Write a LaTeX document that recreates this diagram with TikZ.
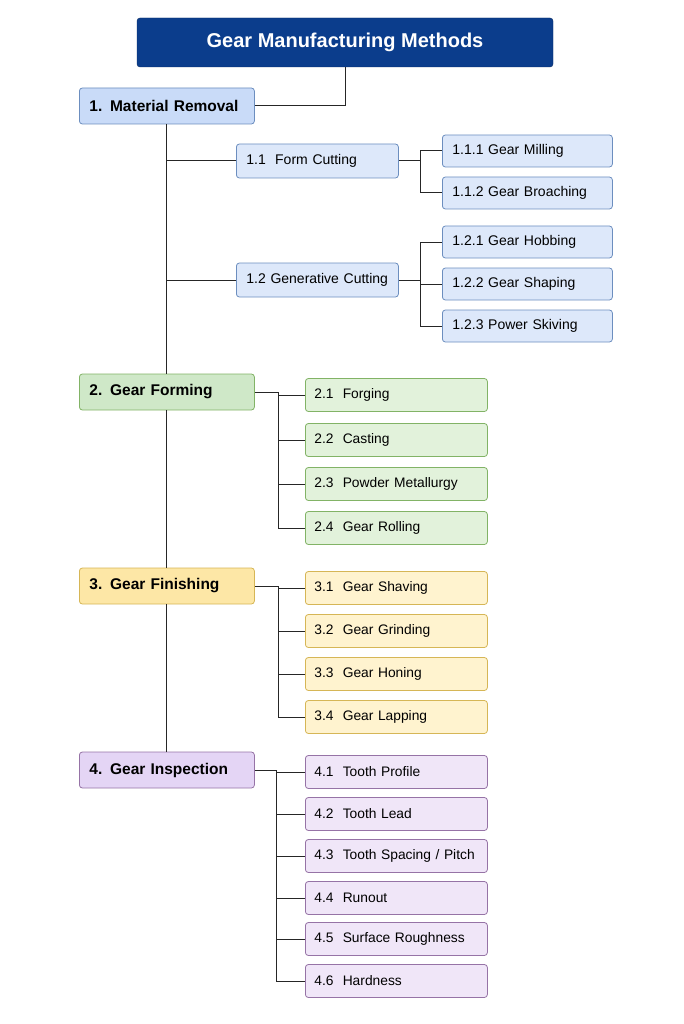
\documentclass[tikz,border=0pt]{standalone}
\usepackage{fontspec}
\setmainfont{Liberation Sans}
\definecolor{titleblue}{HTML}{0B3D8C}
\definecolor{bluefill}{HTML}{C9DBF8}\definecolor{blueline}{HTML}{6C8EBF}\definecolor{bluelite}{HTML}{DDE8FA}
\definecolor{greenfill}{HTML}{CFE8C8}\definecolor{greenline}{HTML}{82B366}\definecolor{greenlite}{HTML}{E2F2DB}
\definecolor{yelfill}{HTML}{FDE7A6}\definecolor{yelline}{HTML}{D6B656}\definecolor{yellite}{HTML}{FFF3CF}
\definecolor{purfill}{HTML}{E4D5F5}\definecolor{purline}{HTML}{9673A6}\definecolor{purlite}{HTML}{F0E6F8}
\tikzset{
  box/.style={draw, rounded corners=3pt, anchor=west, align=left, inner xsep=10pt, line width=0.8pt},
  cat/.style={box, minimum height=36pt, text width=155pt, font=\fontsize{15.5}{18}\selectfont\bfseries},
  sub/.style={box, minimum height=34pt, text width=142pt, font=\fontsize{14}{17}\selectfont},
  leaf/.style={box, minimum height=32pt, text width=150pt, font=\fontsize{14}{17}\selectfont},
  kid/.style={box, minimum height=33pt, inner xsep=9pt, text width=164pt, font=\fontsize{13.8}{17}\selectfont},
  link/.style={line width=1pt, black!85}
}
\begin{document}
\begin{tikzpicture}[x=1pt,y=-1pt]
\useasboundingbox (0,0) rectangle (683,1024);
\node[draw=titleblue!70!black, fill=titleblue, rounded corners=3pt, minimum width=416pt, minimum height=49pt,
  text=white, font=\fontsize{20}{24}\selectfont\bfseries] (title) at (345,42.5) {Gear Manufacturing Methods};

% categories
\node[cat, fill=bluefill, draw=blueline] (mr) at (79,106) {1. Material Removal};
\node[cat, fill=greenfill, draw=greenline] (gf) at (79,392) {2. Gear Forming};
\node[cat, fill=yelfill, draw=yelline] (gfi) at (79,586) {3. Gear Finishing};
\node[cat, fill=purfill, draw=purline] (gi) at (79,770) {4. Gear Inspection};
\draw[link] (title.south) |- (mr.east);
\draw[link] (mr.south) -- (gf.north);
\draw[link] (gf.south) -- (gfi.north);
\draw[link] (gfi.south) -- (gi.north);

% material removal
\node[sub, fill=bluelite, draw=blueline] (fc) at (236,161) {1.1\ \ Form Cutting};
\node[sub, fill=bluelite, draw=blueline] (gc) at (236,280) {1.2 Generative Cutting};
\draw[link] (fc.west) -| (mr.south);
\draw[link] (gc.west) -| (mr.south);
\coordinate (jfc) at (420,161);
\coordinate (jgc) at (420,280);
\draw[link] (fc.east) -- (jfc);
\draw[link] (gc.east) -- (jgc);
\foreach \n/\y/\t in {a/151/1.1.1 Gear Milling, b/193/1.1.2 Gear Broaching}{
  \node[leaf, fill=bluelite, draw=blueline] (l\n) at (442,\y) {\t};
  \draw[link] (jfc) |- (l\n.west);
}
\foreach \n/\y/\t in {c/242/1.2.1 Gear Hobbing, d/284/1.2.2 Gear Shaping, e/326/1.2.3 Power Skiving}{
  \node[leaf, fill=bluelite, draw=blueline] (l\n) at (442,\y) {\t};
  \draw[link] (jgc) |- (l\n.west);
}

% forming
\coordinate (jgf) at (278,392);
\draw[link] (gf.east) -- (jgf);
\foreach \n/\y/\t in {1/395/Forging, 2/440/Casting, 3/484/Powder Metallurgy, 4/528/Gear Rolling}{
  \node[kid, fill=greenlite, draw=greenline] (f\n) at (305,\y) {2.\n\ \ \t};
  \draw[link] (jgf) |- (f\n.west);
}

% finishing
\coordinate (jgfi) at (278,586);
\draw[link] (gfi.east) -- (jgfi);
\foreach \n/\y/\t in {1/588/Gear Shaving, 2/631/Gear Grinding, 3/674/Gear Honing, 4/717/Gear Lapping}{
  \node[kid, fill=yellite, draw=yelline] (h\n) at (305,\y) {3.\n\ \ \t};
  \draw[link] (jgfi) |- (h\n.west);
}

% inspection
\coordinate (jgi) at (276,770);
\draw[link] (gi.east) -- (jgi);
\foreach \n/\y/\t in {1/772/{Tooth Profile}, 2/814/{Tooth Lead}, 3/856/{Tooth Spacing / Pitch}, 4/898/{Runout}, 5/939/{Surface Roughness}, 6/981/{Hardness}}{
  \node[kid, fill=purlite, draw=purline] (i\n) at (305,\y) {4.\n\ \ \t};
  \draw[link] (jgi) |- (i\n.west);
}
\end{tikzpicture}
\end{document}
